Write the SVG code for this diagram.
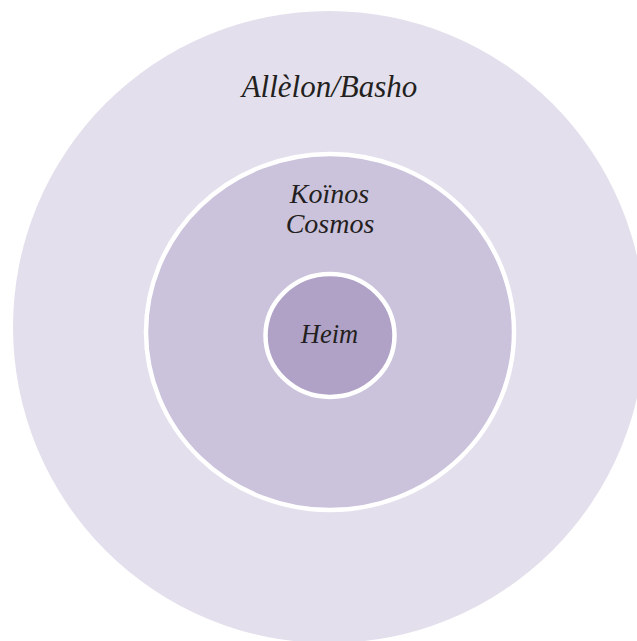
<svg xmlns="http://www.w3.org/2000/svg" width="637" height="641" viewBox="0 0 637 641">
<style>
.lbl{font-family:"Liberation Serif","Times New Roman",serif;font-style:italic;fill:#231F20;text-anchor:middle}
.ring{stroke:#FFFFFF;stroke-width:4.5}
</style>
<rect width="637" height="641" fill="#FFFFFF"/>
<g id="allelon-basho">
<circle cx="329" cy="327" r="316" fill="#E4DFEC"/>
<text class="lbl" x="329.5" y="97" font-size="31">Allèlon/Basho</text>
</g>
<g id="koinos-cosmos">
<ellipse class="ring" cx="330" cy="332" rx="184" ry="178" fill="#CBC2DB"/>
<text class="lbl" x="329.5" y="203" font-size="28">Koïnos</text>
<text class="lbl" x="330" y="233" font-size="28">Cosmos</text>
</g>
<g id="heim">
<ellipse class="ring" cx="330" cy="335.5" rx="64.5" ry="61.5" fill="#B0A2C7"/>
<text class="lbl" x="329.5" y="342.5" font-size="26.5">Heim</text>
</g>
<g id="connectors"/>
</svg>
